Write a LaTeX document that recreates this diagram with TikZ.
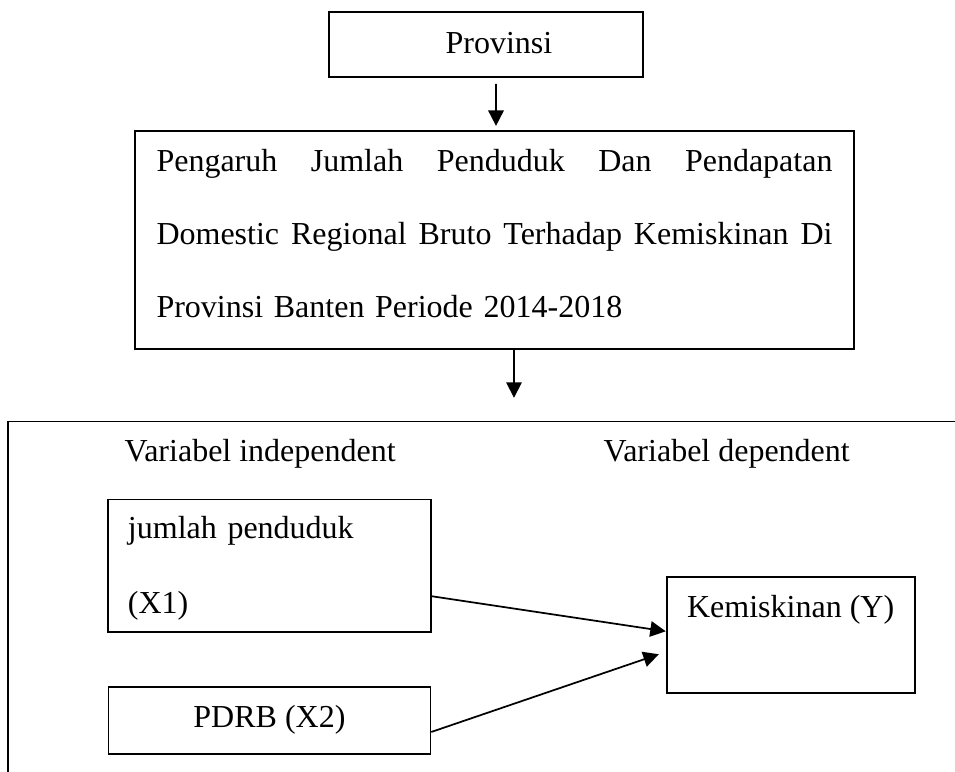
\documentclass[tikz,border=0pt]{standalone}
\usepackage{fontspec}
\setmainfont{Liberation Serif}
\usetikzlibrary{positioning, arrows.meta}

\begin{document}
\begin{tikzpicture}[
    block/.style={draw, line width=0.65pt, inner ysep=0pt, font=\fontsize{12}{27.4}\selectfont},
    heading/.style={inner sep=0pt, font=\fontsize{12}{14}\selectfont},
    arrow/.style={-{Triangle[length=5.8pt, width=5.8pt]}, line width=0.65pt}
]
    \useasboundingbox (-182.25pt,16.69pt) rectangle (175.88pt,-272.81pt);

    % NODES
    \node[block, minimum width=117.75pt, text height=15.4pt, text depth=9pt] (prov) at (0,0) {\hspace*{9.75pt}Provinsi};
    \node[block, text width=253.5pt, align=left, inner xsep=8.06pt, below=19.5pt of prov, xshift=3.2pt] (topic) {\noindent\rule{0pt}{15.4pt}\makebox[253.5pt][s]{Pengaruh\hfill Jumlah\hfill Penduduk\hfill Dan\hfill Pendapatan}\\
        \makebox[253.5pt][s]{Domestic\hfill Regional\hfill Bruto\hfill Terhadap\hfill Kemiskinan\hfill Di}\\
        Provinsi Banten Periode 2014-2018\rule[-11.6pt]{0pt}{11.6pt}};

    \coordinate (frame) at ([xshift=-47.25pt, yshift=-26.9pt]topic.south west);
    \coordinate (drop) at ([xshift=7.3pt, yshift=-18pt]topic.south);

    \node[heading, anchor=base west] (indep) at ([xshift=43.5pt, yshift=-15pt]frame) {Variabel independent};
    \node[heading, base right=77.6pt of indep] (dep) {Variabel dependent};

    \node[block, text width=106.1pt, align=left, inner xsep=7.5pt, font=\fontsize{12}{28.1}\selectfont, below right=28.9pt and 37.1pt of frame] (pop) {\noindent\rule{0pt}{14.6pt}jumlah penduduk\\
        (X1)\rule[-7.1pt]{0pt}{7.1pt}};
    \node[block, minimum width=120.75pt, text height=15pt, text depth=10.1pt, below=19.9pt of pop] (pdrb) {PDRB (X2)};
    \node[block, minimum width=93pt, text height=15pt, text depth=28.5pt, below right=29.2pt and 87.75pt of pop.north east] (poverty) {Kemiskinan (Y)};

    % FRAME
    \begin{scope}
        \clip (-182.25pt,16.69pt) rectangle (175.88pt,-272.81pt);
        \draw[line width=0.65pt] (frame) rectangle ++(400pt,-300pt);
    \end{scope}

    % EDGES
    \draw[arrow] ([xshift=3.75pt, yshift=-2.25pt]prov.south) -- ([xshift=0.56pt, yshift=1.5pt]topic.north);
    \draw[arrow] ([xshift=7.3pt]topic.south) -- (drop);

    \draw[arrow] ([yshift=-11.4pt]pop.east) -- ([yshift=1.5pt]poverty.west);
    \draw[arrow] ([yshift=-4.3pt]pdrb.east) -- ([xshift=-2.6pt, yshift=-7.1pt]poverty.west);

\end{tikzpicture}
\end{document}
